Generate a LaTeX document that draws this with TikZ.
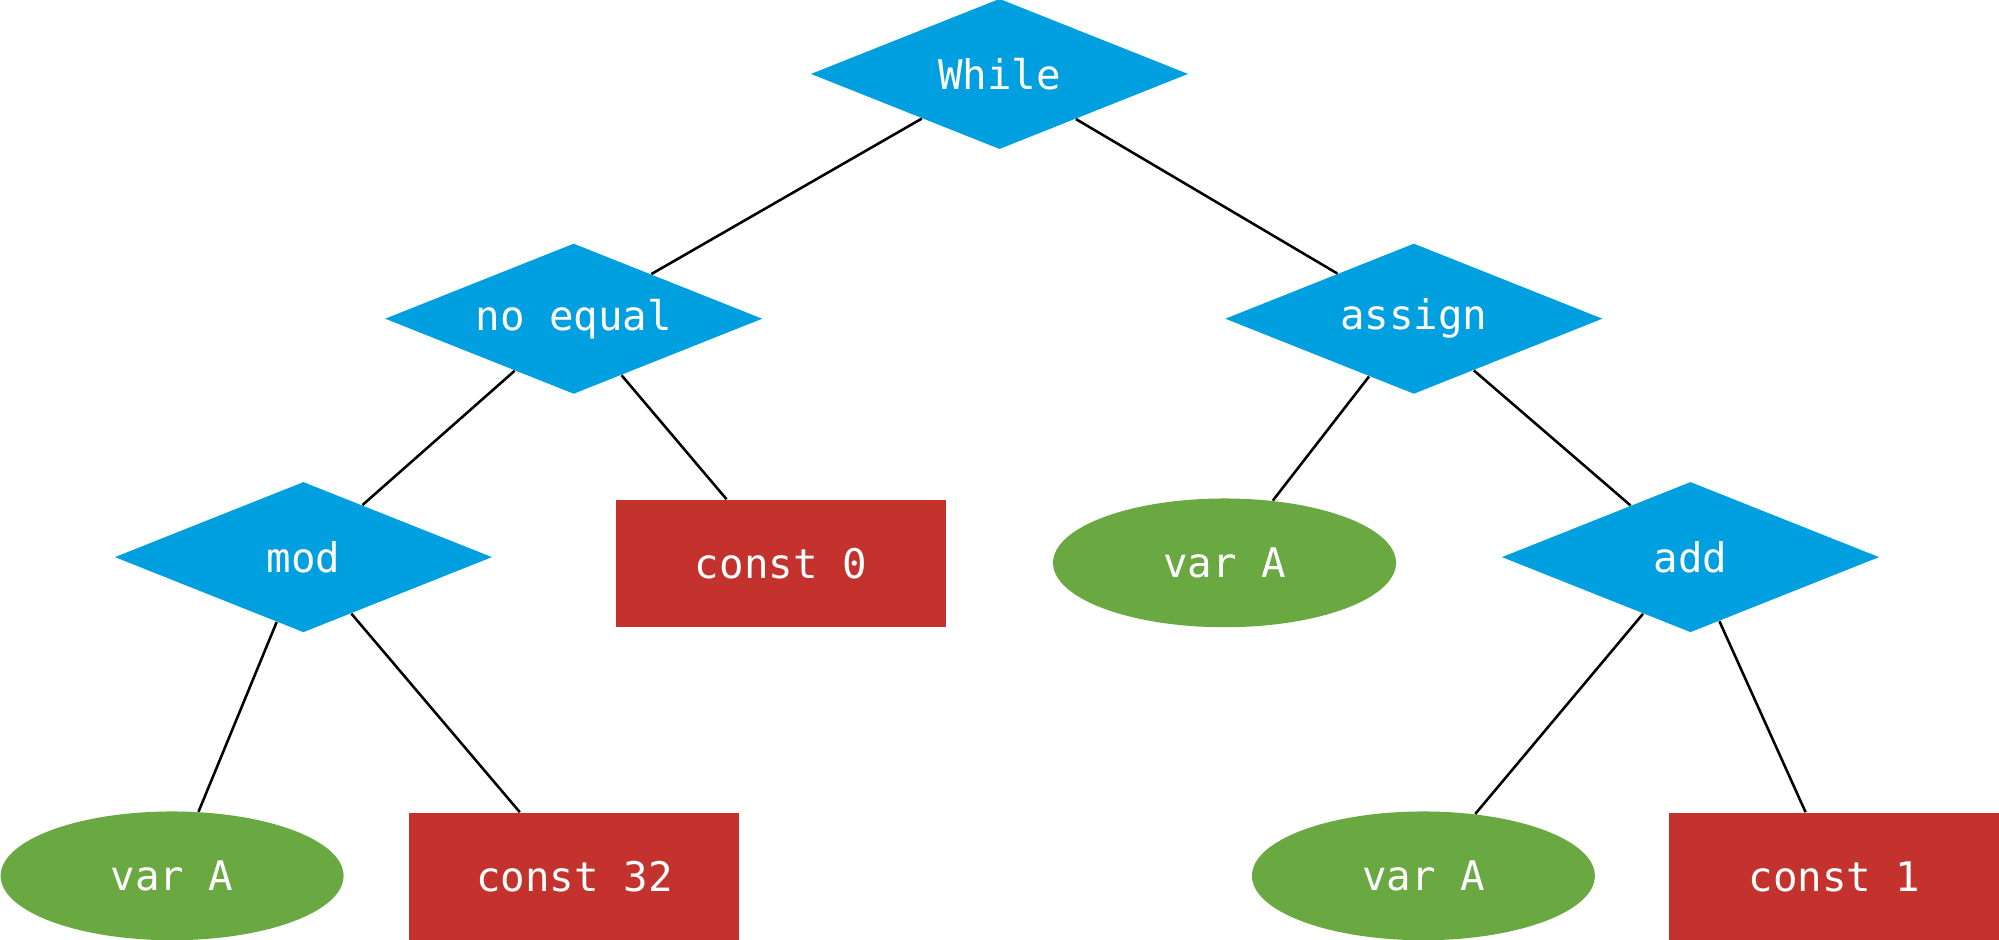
\documentclass[tikz,border=0pt]{standalone}
\usepackage{fontspec}
\setmonofont{DejaVu Sans Mono}
\usetikzlibrary{shapes.geometric}
\definecolor{opblue}{RGB}{0,159,224}
\definecolor{vargreen}{RGB}{106,168,66}
\definecolor{constred}{RGB}{196,50,45}
\begin{document}
\begin{tikzpicture}[x=0.5pt,y=-0.5pt,
    every node/.style={text=white,inner sep=0pt,font=\ttfamily\fontsize{16}{19}\selectfont},
    opnode/.style={diamond,fill=opblue,inner xsep=-25pt,inner ysep=-6pt,shape aspect=2.5,
      minimum width=148pt,minimum height=59pt},
    varnode/.style={ellipse,fill=vargreen,minimum width=134.5pt,minimum height=50.5pt},
    constnode/.style={rectangle,fill=constred,minimum width=129.5pt,minimum height=50pt}]
      \useasboundingbox (0,0) rectangle (1568,737);
      \node[opnode] (while) at (784,58) {While};
      \node[opnode] (neq) at (450,250) {no equal};
      \node[opnode] (assign) at (1109,250) {assign};
      \node[opnode] (mod) at (238,437) {mod};
      \node[constnode] (c0) at (612.5,442) {const 0};
      \node[varnode] (va1) at (960.5,441.5) {var A};
      \node[opnode] (add) at (1326,437) {add};
      \node[varnode] (va2) at (135,687) {var A};
      \node[constnode] (c32) at (450.5,687.5) {const 32};
      \node[varnode] (va3) at (1116.5,687) {var A};
      \node[constnode] (c1) at (1439,687.5) {const 1};
      \draw[line width=1pt] (while) -- (neq) (while) -- (assign)
        (neq) -- (mod) (neq) -- (c0) (assign) -- (va1) (assign) -- (add)
        (mod) -- (va2) (mod) -- (c32) (add) -- (va3) (add) -- (c1);
    \end{tikzpicture}
\end{document}
